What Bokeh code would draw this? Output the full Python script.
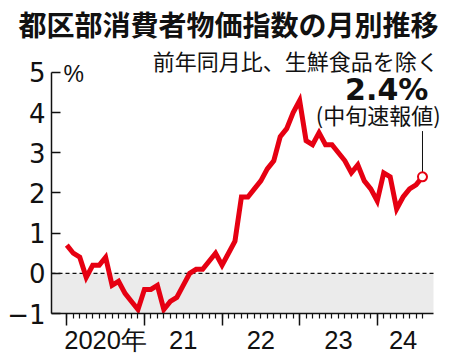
from bokeh.plotting import figure
from bokeh.models import Range1d, FixedTicker, BoxAnnotation, Label, LinearAxis
from bokeh.embed import file_html
from bokeh.resources import INLINE

# ---- data -------------------------------------------------------------
title_text = "都区部消費者物価指数の月別推移"
subtitle_text = "前年同月比、生鮮食品を除く"
latest_label = "2.4%"
latest_note = "(中旬速報値)"
unit_label = "%"

year_labels = ["2020年", "21", "22", "23", "24"]
year_start = [0, 12, 24, 36, 48]          # month index of each January

# Tokyo core CPI, y/y %, Jan 2020 - Aug 2024
values_2020 = [0.7, 0.5, 0.4, -0.1, 0.2, 0.2, 0.4, -0.3, -0.2, -0.5, -0.7, -0.9]
values_2021 = [-0.4, -0.4, -0.3, -0.9, -0.7, -0.6, -0.3, 0.0, 0.1, 0.1, 0.3, 0.5]
values_2022 = [0.2, 0.5, 0.8, 1.9, 1.9, 2.1, 2.3, 2.6, 2.8, 3.4, 3.6, 4.0]
values_2023 = [4.3, 3.3, 3.2, 3.5, 3.2, 3.2, 3.0, 2.8, 2.5, 2.7, 2.3, 2.1]
values_2024 = [1.8, 2.5, 2.4, 1.6, 1.9, 2.1, 2.2, 2.4]

y_ticks = [-1, 0, 1, 2, 3, 4, 5]

values = values_2020 + values_2021 + values_2022 + values_2023 + values_2024
months = list(range(len(values)))

RED = "#e60012"
INK = "#111111"

# ---- layout constants ---------------------------------------------------
TOP = 43                  # height of the title panel (px)
X0, X1 = -2.37, 59.33     # frame spans from the y axis to the right edge
Y0 = -1.0
Y1 = 5 + (71 - TOP) / 40.333
X_END = 56.7              # right end of axis line / shaded band

p = figure(width=450, height=358, output_backend="svg", toolbar_location=None,
           title=title_text,
           x_range=Range1d(X0, X1), y_range=Range1d(Y0, Y1),
           min_border_left=51, min_border_right=0,
           min_border_top=TOP, min_border_bottom=45)
p.outline_line_color = None
p.grid.visible = False
p.background_fill_color = "white"
p.border_fill_color = "white"

p.title.align = "right"
p.title.offset = 12
p.title.standoff = 2
p.title.text_font = "Noto Sans CJK JP"
p.title.text_font_style = "bold"
p.title.text_font_size = "28px"
p.title.text_color = INK

# negative zone + zero line
p.add_layout(BoxAnnotation(top=0, bottom=Y0, left=X0, right=X_END,
                           fill_color="#ebebeb", fill_alpha=1.0,
                           line_color=None, level="underlay"))
p.segment(x0=[X0], y0=[0], x1=[X_END], y1=[0], line_color=INK,
          line_width=1.2, line_dash="4 3")

# series
p.line(months, values, line_color=RED, line_width=5, line_join="miter")

# leader from latest point to its annotation
last_x = months[-1]
last_y = values[-1]
p.segment(x0=[last_x], y0=[last_y + 0.11], x1=[last_x], y1=[3.54],
          line_color=INK, line_width=1)
p.scatter([last_x], [last_y], marker="circle", size=9,
          fill_color="white", line_color=RED, line_width=2)

# ---- axes -------------------------------------------------------------
ya = p.yaxis[0]
ya.ticker = FixedTicker(ticks=y_ticks)
ya.bounds = (min(y_ticks), max(y_ticks))
ya.axis_line_color = INK
ya.axis_line_width = 1.5
ya.major_tick_line_color = INK
ya.major_tick_line_width = 1.5
ya.major_tick_in = 9
ya.major_tick_out = 0
ya.minor_tick_line_color = None
ya.major_label_standoff = 6
ya.major_label_text_font = "DejaVu Sans"
ya.major_label_text_font_size = "26px"
ya.major_label_text_color = INK

xa = p.xaxis[0]
xa.ticker = FixedTicker(ticks=year_start, minor_ticks=months)
xa.bounds = (X0, X_END)
xa.axis_line_color = INK
xa.axis_line_width = 1.5
xa.major_tick_line_color = INK
xa.major_tick_line_width = 1.5
xa.major_tick_in = 0
xa.major_tick_out = 12
xa.minor_tick_line_color = INK
xa.minor_tick_line_width = 1.2
xa.minor_tick_in = 0
xa.minor_tick_out = 5
xa.major_label_standoff = 0
xa.major_label_text_font_size = "1px"
xa.major_label_text_color = None

# year labels centred within each year's span of months
year_centres = [(s + min(s + 11, months[-1]) + 1) / 2 for s in year_start]
ylab_axis = LinearAxis(ticker=FixedTicker(ticks=year_centres),
                       major_label_overrides={c: lab for c, lab in zip(year_centres, year_labels)},
                       axis_line_color=None, major_tick_line_color=None,
                       minor_tick_line_color=None, major_tick_in=0, major_tick_out=0,
                       major_label_standoff=0,
                       major_label_text_font="Liberation Sans",
                       major_label_text_font_size="25.5px",
                       major_label_text_color=INK)
p.add_layout(ylab_axis, "below")

# unit
p.add_layout(Label(x=-0.51, y=4.95, text=unit_label, text_align="left",
                   text_baseline="middle", text_font="Liberation Sans",
                   text_font_size="23px", text_color=INK))

# subtitle
p.add_layout(Label(x=57.5, y=5.30, text=subtitle_text, text_align="right",
                   text_baseline="middle", text_font="Noto Sans CJK JP",
                   text_font_size="22px", text_color=INK))

# latest value annotation
p.add_layout(Label(x=55.9, y=4.57, text=latest_label, text_align="right",
                   text_baseline="middle", text_font="DejaVu Sans",
                   text_font_style="bold", text_font_size="30px",
                   text_color=INK))
p.add_layout(Label(x=57.8, y=3.97, text=latest_note, text_align="right",
                   text_baseline="middle", text_font="Noto Sans CJK JP",
                   text_font_size="22px", text_color=INK))

open("out.html", "w").write(file_html(p, INLINE))
